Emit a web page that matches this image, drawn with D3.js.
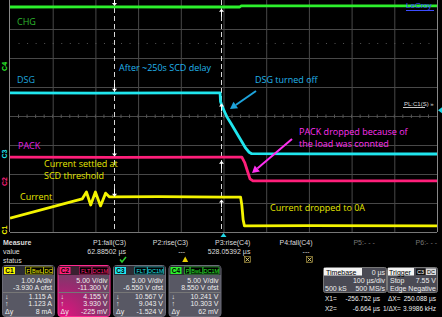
<!DOCTYPE html>
<html>
<head>
<meta charset="utf-8">
<script src="https://cdn.jsdelivr.net/npm/d3@7"></script>
<style>
  html, body { margin: 0; padding: 0; background: #000; }
  svg { display: block; }
</style>
</head>
<body>
<div id="scope"></div>
<script>
// channel setup, C1..C4
const channelIds = ["C1", "C2", "C3", "C4"];
const channelColors = ["#f4f400", "#ff1f7a", "#20e6ee", "#2cf02c"];
const voltsPerDiv = [1, 5, 5, 5];
const offsets = [-3.93, -11.3, -6.55, 8.55];
const units = ["A", "V", "V", "V"];

// traces: [time us, value]
const currentTrace = [[-500, 0.41], [-331, 1.07], [-321, 1.31], [-311, 0.86], [-300, 1.31], [-288, 0.83], [-276, 1.27], [-267, 1.14],
  [-150, 1.15], [0, 1.13], [40, 1.13], [43, 0.85], [46, 0.35], [49, 0.14], [200, 0.15], [500, 0.14]];
const packTrace = [[-500, 4.2], [-250, 4.18], [0, 4.21], [43, 4.2], [50, 3.2], [57, 1.6], [62, 0.45], [69, 0.1], [300, 0.1], [500, 0.11]];
const dsgTrace = [[-500, 10.52], [-300, 10.5], [-100, 10.53], [-8, 10.52], [-7, 9.05], [-3, 8.2], [3, 7.2], [8, 6.4], [18, 5.2],
  [27, 4.1], [35, 3.1], [43, 2.1], [52, 1.0], [60, 0.3], [66, 0.05], [200, 0.02], [500, 0.0]];
const chgTrace = [[-500, 10.24], [-300, 10.25], [-100, 10.24], [0, 10.24], [38, 10.24], [41, 10.42], [200, 10.43], [500, 10.42]];
const traces = [currentTrace, packTrace, dsgTrace, chgTrace];

// cursors
const cursorTimes = [-256.752, -6.664];
const cursorDown = [1.115, 4.155, 10.567, 10.241];
const cursorUp = [1.123, 3.930, 9.043, 10.303];
const cursorDeltas = ["8 mA", "-225 mV", "-1.524 V", "62 mV"];
const triggerLevel = 7.55;

// measurements
const measureNames = ["P1:fall(C3)", "P2:rise(C3)", "P3:rise(C4)", "P4:fall(C4)", "P5:- - -", "P6:- - -"];
const measureValues = ["62.88502 µs", "---", "528.05392 µs", "---", "", ""];
const measureStatus = ["ok", "warn", "bad", "bad", "", ""];

const boxTags = [["F", "BwL", "DC"], ["FLT", "DC1M"], ["FLT", "DC1M"], ["P", "BwL", "DC1M"]];

const width = 442, height = 317;
const gx0 = 10, gx1 = 437, gy0 = 0, gy1 = 232;
const font = "'Liberation Sans', Arial, sans-serif";
const noteFont = "'Open Sans', 'Noto Sans', sans-serif";

const svg = d3.select("#scope").append("svg")
  .attr("width", width)
  .attr("height", height)
  .style("background", "#000");

const defs = svg.append("defs");
defs.append("clipPath").attr("id", "grid-clip")
  .append("rect").attr("x", gx0).attr("y", gy0).attr("width", gx1 - gx0).attr("height", gy1 - gy0);

const x = d3.scaleLinear().domain([-500, 500]).range([gx0, gx1]);
const yDiv = d3.scaleLinear().domain([-4, 4]).range([gy1, gy0]);
const chanY = i => d3.scaleLinear()
  .domain([-4 * voltsPerDiv[i] - offsets[i], 4 * voltsPerDiv[i] - offsets[i]])
  .range([gy1, gy0]);

// grid
const grid = svg.append("g");
grid.selectAll(".vline").data(d3.range(-400, 401, 100)).enter().append("line")
  .attr("x1", d => x(d) + 0.5).attr("x2", d => x(d) + 0.5)
  .attr("y1", gy0).attr("y2", gy1)
  .attr("stroke", "#484848").attr("stroke-width", 1);
grid.selectAll(".hline").data(d3.range(-3, 4, 1)).enter().append("line")
  .attr("x1", gx0).attr("x2", gx1)
  .attr("y1", d => Math.round(yDiv(d)) + 0.5).attr("y2", d => Math.round(yDiv(d)) + 0.5)
  .attr("stroke", "#484848").attr("stroke-width", 1);
// centre axis ticks
grid.selectAll(".htick").data(d3.range(-480, 500, 20)).enter().append("line")
  .attr("x1", d => x(d)).attr("x2", d => x(d))
  .attr("y1", yDiv(0) - 1.5).attr("y2", yDiv(0) + 2)
  .attr("stroke", "#555");
grid.selectAll(".dot").data(d3.range(-480, 500, 20)).enter().append("rect")
  .attr("x", d => x(d)).attr("y", yDiv(2.5) - 0.5).attr("width", 1).attr("height", 1)
  .attr("fill", "#555");
// border
grid.append("line").attr("x1", gx0 - 0.5).attr("x2", gx0 - 0.5).attr("y1", gy0).attr("y2", gy1)
  .attr("stroke", "#888");
grid.append("line").attr("x1", gx1 + 0.5).attr("x2", gx1 + 0.5).attr("y1", gy0).attr("y2", gy1)
  .attr("stroke", "#888");
grid.append("line").attr("x1", gx0).attr("x2", gx1).attr("y1", gy1 + 0.5).attr("y2", gy1 + 0.5)
  .attr("stroke", "#777");

// cursor lines
svg.append("g").selectAll("line").data(cursorTimes).enter().append("line")
  .attr("x1", d => Math.round(x(d)) + 0.5).attr("x2", d => Math.round(x(d)) + 0.5)
  .attr("y1", gy0).attr("y2", gy1)
  .attr("stroke", "#d8d8d8").attr("stroke-width", 1)
  .attr("stroke-dasharray", "5,3");

// traces
const line = i => d3.line().x(d => x(d[0])).y(d => chanY(i)(d[1]));
svg.append("g").attr("clip-path", "url(#grid-clip)")
  .selectAll("path").data(traces).enter().append("path")
  .attr("d", (d, i) => line(i)(d))
  .attr("fill", "none")
  .attr("stroke", (d, i) => channelColors[i])
  .attr("stroke-width", 2.8)
  .attr("stroke-linejoin", "round");

// cursor arrows on traces
const arrows = svg.append("g").attr("fill", "#fff").attr("stroke", "#fff");
channelIds.forEach((c, i) => {
  const xa = Math.round(x(cursorTimes[0])) + 0.5, ya = chanY(i)(cursorDown[i]) - 1;
  arrows.append("line").attr("x1", xa).attr("x2", xa).attr("y1", ya - 8).attr("y2", ya - 2);
  arrows.append("path").attr("stroke", "none").attr("d", `M${xa - 2.5},${ya - 3}L${xa + 2.5},${ya - 3}L${xa},${ya}Z`);
  const xb = Math.round(x(cursorTimes[1])) + 0.5, yb = chanY(i)(cursorUp[i]) + 2;
  arrows.append("line").attr("x1", xb).attr("x2", xb).attr("y1", yb + 2).attr("y2", yb + 8);
  arrows.append("path").attr("stroke", "none").attr("d", `M${xb - 2.5},${yb + 3}L${xb + 2.5},${yb + 3}L${xb},${yb}Z`);
});

// ground markers on the left
svg.append("g").selectAll("text").data(channelIds).enter().append("text")
  .attr("transform", (d, i) => `translate(7,${chanY(i)(0)}) rotate(-90)`)
  .attr("text-anchor", "middle")
  .attr("font-family", font).attr("font-size", 7).attr("font-weight", "bold")
  .attr("fill", (d, i) => channelColors[i])
  .text(d => d);

// trigger markers
svg.append("path")
  .attr("d", `M${gx1 + 1},${chanY(2)(triggerLevel)}l4,-3l0,6Z`)
  .attr("fill", "#20d8e8");
svg.append("path")
  .attr("d", `M${x(0)},${gy1 + 1}l-3,4l6,0Z`)
  .attr("fill", "#20d8e8");

// top right
svg.append("text").attr("x", 406).attr("y", 8).attr("font-family", font).attr("font-size", 8)
  .attr("fill", "#3c4cff").text("LeCroy");
svg.append("line").attr("x1", 406).attr("x2", 434).attr("y1", 10.5).attr("y2", 10.5).attr("stroke", "#3c4cff");
svg.append("text").attr("x", 404).attr("y", 106).attr("font-family", font).attr("font-size", 6)
  .attr("fill", "#ddd").text("PL:C1(S) »");
svg.append("line").attr("x1", 403).attr("x2", 425).attr("y1", 107.5).attr("y2", 107.5).attr("stroke", "#ccc");

// annotations
const notes = svg.append("g").attr("font-family", noteFont).attr("font-size", 9);
const note = (tx, ty, color, s) => notes.append("text").attr("x", tx).attr("y", ty).attr("fill", color).text(s);
note(17, 25, "#2eb82e", "CHG");
note(17, 83, "#1ea4dc", "DSG");
note(119, 71, "#22b4ec", "After ~250s SCD delay");
note(255, 83, "#22b4ec", "DSG turned off");
note(18, 149, "#e020e0", "PACK");
note(299, 135, "#ff30f0", "PACK dropped because of");
note(299, 147, "#ff30f0", "the load was connted");
note(44, 167, "#e6e600", "Current settled at");
note(44, 179, "#e6e600", "SCD threshold");
note(20, 200, "#e6e600", "Current");
note(270, 211, "#e6e600", "Current dropped to 0A");

function arrow(x1, y1, x2, y2, color) {
  const a = Math.atan2(y2 - y1, x2 - x1), L = 7, w = 4;
  const bx = x2 - L * Math.cos(a), by = y2 - L * Math.sin(a);
  svg.append("line").attr("x1", x1).attr("y1", y1).attr("x2", bx).attr("y2", by)
    .attr("stroke", color).attr("stroke-width", 2);
  svg.append("path").attr("fill", color)
    .attr("d", `M${x2},${y2}L${bx + w * Math.sin(a)},${by - w * Math.cos(a)}L${bx - w * Math.sin(a)},${by + w * Math.cos(a)}Z`);
}
arrow(256, 91, 230, 109, "#1ea4dc");
arrow(292, 139, 252, 173, "#ff30f0");

// measure table
const meas = svg.append("g").attr("font-family", font).attr("font-size", 7).attr("fill", "#ddd");
meas.append("text").attr("x", 3).attr("y", 245).attr("font-weight", "bold").text("Measure");
meas.append("text").attr("x", 3).attr("y", 254).text("value");
meas.append("text").attr("x", 3).attr("y", 263).text("status");
const colRight = i => 126 + i * 62.2;
meas.selectAll(".mh").data(measureNames).enter().append("text")
  .attr("x", (d, i) => colRight(i)).attr("y", 245).attr("text-anchor", "end")
  .attr("fill", (d, i) => i < 4 ? "#ddd" : "#777").text(d => d);
meas.selectAll(".mv").data(measureValues).enter().append("text")
  .attr("x", (d, i) => colRight(i) - (d === "---" ? 3 : 0)).attr("y", 254).attr("text-anchor", "end")
  .text(d => d);
measureStatus.forEach((s, i) => {
  const cx = colRight(i) - 3, cy = 259.5;
  if (s === "ok") {
    meas.append("path").attr("d", `M${cx - 3},${cy}l2,2.5l4,-5`).attr("fill", "none")
      .attr("stroke", "#2ed02e").attr("stroke-width", 1.5);
  } else if (s === "warn") {
    meas.append("path").attr("d", `M${cx},${cy - 3}l3,5.5l-6,0Z`).attr("fill", "#e8d000");
  } else if (s === "bad") {
    meas.append("rect").attr("x", cx - 3).attr("y", cy - 3).attr("width", 6).attr("height", 6)
      .attr("fill", "none").attr("stroke", "#c8b050").attr("stroke-width", 0.6);
    meas.append("path").attr("d", `M${cx - 2},${cy - 2}l4,4M${cx + 2},${cy - 2}l-4,4`)
      .attr("stroke", "#e0d070").attr("stroke-width", 1);
  }
});

// channel boxes
const grad = defs.append("radialGradient").attr("id", "selGrad")
  .attr("cx", "0.1").attr("cy", "1").attr("r", "1.1");
grad.append("stop").attr("offset", "0").attr("stop-color", "#e0157f");
grad.append("stop").attr("offset", "0.55").attr("stop-color", "#9a2a70");
grad.append("stop").attr("offset", "1").attr("stop-color", "#5c5062");

const scaleLabels = ["1.00 A/div", "5.00 V/div", "5.00 V/div", "5.00 V/div"];
const offsetLabels = ["-3.930 A ofst", "-11.300 V", "-6.550 V ofst", "8.550 V ofst"];
const fmt = (v, i) => i === 0 ? v.toFixed(3) + " A" : v.toFixed(3) + " V";

channelIds.forEach((c, i) => {
  const bx = 2 + i * 55.5, by = 265, bw = 52, bh = 51;
  const g = svg.append("g").attr("font-family", font).attr("font-size", 7);
  g.append("rect").attr("x", bx + 0.5).attr("y", by + 0.5).attr("width", bw).attr("height", bh).attr("rx", 3)
    .attr("fill", i === 1 ? "url(#selGrad)" : "#585864")
    .attr("stroke", i === 1 ? "#ff2a90" : "#6c6c78");
  g.append("rect").attr("x", bx + 1).attr("y", by + 1).attr("width", bw - 1).attr("height", 9)
    .attr("fill", i === 1 ? "#3a2030" : "#2c2c34");
  g.append("line").attr("x1", bx + 1).attr("x2", bx + bw).attr("y1", by + 27.5).attr("y2", by + 27.5)
    .attr("stroke", "#777");
  g.append("rect").attr("x", bx + 2).attr("y", by + 2).attr("width", 11).attr("height", 7)
    .attr("fill", channelColors[i]);
  g.append("text").attr("x", bx + 7.5).attr("y", by + 8).attr("text-anchor", "middle")
    .attr("font-weight", "bold").attr("font-size", 6.5).attr("fill", "#000").text(c);
  let tx = bx + bw - 1;
  boxTags[i].slice().reverse().forEach(t => {
    const tw = t.length * 3.6 + 2;
    tx -= tw;
    g.append("rect").attr("x", tx).attr("y", by + 2).attr("width", tw - 0.5).attr("height", 7)
      .attr("fill", "#000").attr("stroke", channelColors[i]).attr("stroke-width", 0.5);
    g.append("text").attr("x", tx + tw / 2).attr("y", by + 8).attr("text-anchor", "middle")
      .attr("font-size", 5.5).attr("fill", channelColors[i]).text(t);
  });
  const rx = bx + bw - 2;
  const rows = [
    [scaleLabels[i], 18], [offsetLabels[i], 25],
    [fmt(cursorDown[i], i), 34], [fmt(cursorUp[i], i), 41], [cursorDeltas[i], 49]
  ];
  rows.forEach(r => g.append("text").attr("x", rx).attr("y", by + r[1]).attr("text-anchor", "end")
    .attr("fill", "#eee").text(r[0]));
  [["↓", 34], ["↑", 41], ["Δy", 49]].forEach(r => g.append("text").attr("x", bx + 3).attr("y", by + r[1])
    .attr("fill", "#eee").text(r[0]));
});

// timebase and trigger
const tb = svg.append("g").attr("font-family", font).attr("font-size", 7).attr("fill", "#eee");
tb.append("rect").attr("x", 323.5).attr("y", 267.5).attr("width", 63).attr("height", 25).attr("rx", 2)
  .attr("fill", "#4a4a54").attr("stroke", "#777");
tb.append("rect").attr("x", 324).attr("y", 268).attr("width", 38).attr("height", 7.5).attr("fill", "#f4f4f4");
tb.append("text").attr("x", 326).attr("y", 274.5).attr("fill", "#000").text("Timebase");
tb.append("text").attr("x", 385).attr("y", 274.5).attr("text-anchor", "end").text("0 µs");
tb.append("text").attr("x", 385).attr("y", 283).attr("text-anchor", "end").text("100 µs/div");
tb.append("text").attr("x", 325).attr("y", 290.5).text("500 kS");
tb.append("text").attr("x", 385).attr("y", 290.5).attr("text-anchor", "end").text("500 MS/s");

tb.append("rect").attr("x", 387.5).attr("y", 267.5).attr("width", 50).attr("height", 25).attr("rx", 2)
  .attr("fill", "#4a4a54").attr("stroke", "#777");
tb.append("rect").attr("x", 388).attr("y", 268).attr("width", 26).attr("height", 7.5).attr("fill", "#f4f4f4");
tb.append("text").attr("x", 389).attr("y", 274.5).attr("fill", "#000").text("Trigger");
[["C3", 416, 9], ["DC", 426, 10]].forEach(t => {
  tb.append("rect").attr("x", t[1]).attr("y", 268.5).attr("width", t[2]).attr("height", 6.5)
    .attr("fill", t[0] === "C3" ? "#111" : "#ddd");
  tb.append("text").attr("x", t[1] + t[2] / 2).attr("y", 274).attr("text-anchor", "middle").attr("font-size", 5.5)
    .attr("fill", t[0] === "C3" ? "#fff" : "#000").text(t[0]);
});
tb.append("text").attr("x", 390).attr("y", 283).text("Stop");
tb.append("text").attr("x", 436).attr("y", 283).attr("text-anchor", "end").text(triggerLevel.toFixed(2) + " V");
tb.append("text").attr("x", 390).attr("y", 290.5).text("Edge");
tb.append("text").attr("x", 436).attr("y", 290.5).attr("text-anchor", "end").text("Negative");

// cursor readout
const dx = cursorTimes[1] - cursorTimes[0];
const ro = tb.append("g").attr("font-size", 6.5);
ro.append("text").attr("x", 325).attr("y", 301).text("X1=");
ro.append("text").attr("x", 380).attr("y", 301).attr("text-anchor", "end").text(cursorTimes[0].toFixed(3) + " µs");
ro.append("text").attr("x", 388).attr("y", 301).text("ΔX=");
ro.append("text").attr("x", 436).attr("y", 301).attr("text-anchor", "end").text(dx.toFixed(3) + " µs");
ro.append("text").attr("x", 325).attr("y", 311).text("X2=");
ro.append("text").attr("x", 380).attr("y", 311).attr("text-anchor", "end").text(cursorTimes[1].toFixed(3) + " µs");
ro.append("text").attr("x", 383).attr("y", 311).text("1/ΔX=");
ro.append("text").attr("x", 436).attr("y", 311).attr("text-anchor", "end").text((1000 / dx).toFixed(4) + " kHz");
</script>
</body>
</html>
